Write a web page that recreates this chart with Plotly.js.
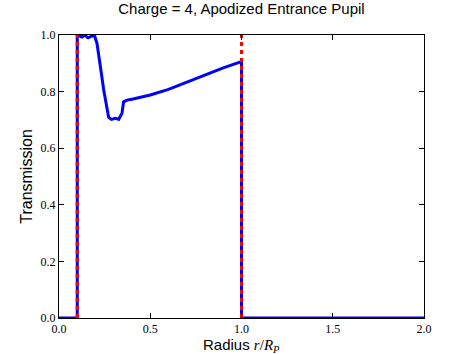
<!DOCTYPE html>
<html>
<head>
<meta charset="utf-8">
<script src="https://cdn.plot.ly/plotly-3.0.1.min.js"></script>
<style>
    html, body { margin: 0; padding: 0; background: #fff; }
    #chart { width: 472px; height: 354px; }
</style>
</head>
<body>
<div id="chart"></div>
<script>
// apodized transmission profile
var radius = [0, 0.1, 0.1, 0.108, 0.126, 0.141, 0.159, 0.185, 0.196, 0.208,
    0.217, 0.232, 0.245, 0.259, 0.272, 0.287, 0.309, 0.327, 0.345, 0.354,
    0.373, 0.4, 0.5, 0.6, 0.7, 0.8, 0.9, 1.0, 1.0, 2.0];
var transmission = [0, 0, 1.0, 0.998, 0.993, 1.0, 0.99, 0.998, 0.995, 0.971,
    0.935, 0.865, 0.806, 0.747, 0.709, 0.702, 0.706, 0.702, 0.723, 0.764,
    0.770, 0.773, 0.788, 0.808, 0.833, 0.857, 0.884, 0.906, 0, 0];

// inner / outer stop radii (red dashed markers)
var stopRadii = [0.1, 1.0];
var stopHeight = [0, 1];

var xTicks = [0, 0.5, 1.0, 1.5, 2.0];
var yTicks = [0, 0.2, 0.4, 0.6, 0.8, 1.0];

var serif = "Liberation Serif";
var sans = "Liberation Sans";

var data = [{
    x: radius,
    y: transmission,
    mode: "lines",
    type: "scatter",
    line: { color: "#0000ff", width: 3 },
}];

stopRadii.forEach((r) => {
    data.push({
        x: [r, r],
        y: stopHeight,
        mode: "lines",
        type: "scatter",
        line: { color: "#ff0000", width: 3, dash: "4px,4px" },
    });
});

function axis(ticks, range) {
    return {
        range: range,
        tickvals: ticks,
        ticktext: ticks.map((v) => v.toFixed(1)),
        ticks: "inside",
        ticklen: 5,
        tickcolor: "#000",
        mirror: "allticks",
        showline: true,
        linecolor: "#000",
        linewidth: 1,
        showgrid: false,
        zeroline: false,
        tickfont: { family: serif, size: 12, color: "#000" },
    };
}

var layout = {
    width: 472,
    height: 354,
    margin: { l: 59, r: 48, t: 35, b: 36 },
    showlegend: false,
    paper_bgcolor: "#fff",
    plot_bgcolor: "#fff",
    title: {
        text: "Charge = 4, Apodized Entrance Pupil",
        font: { family: sans, size: 15, color: "#000" },
        x: 0.5,
        xref: "paper",
        y: 0.99,
        yref: "container",
        yanchor: "top",
    },
    xaxis: axis(xTicks, [0, 2]),
    yaxis: axis(yTicks, [0, 1]),
    // x title placed as an annotation so it can sit tight under the tick labels
    annotations: [{
        text: "Radius <span style=\"font-family:'Liberation Serif'\"><i>r</i>/<i>R</i><sub><i>P</i></sub></span>",
        font: { family: sans, size: 15, color: "#000" },
        xref: "paper",
        yref: "paper",
        x: 0.5,
        y: 0,
        xanchor: "center",
        yanchor: "top",
        yshift: -16,
        showarrow: false,
    }],
};
layout.yaxis.title = {
    text: "Transmission",
    font: { family: sans, size: 16, color: "#000" },
    standoff: 3,
};

Plotly.newPlot("chart", data, layout, { displayModeBar: false, staticPlot: true });
</script>
</body>
</html>
